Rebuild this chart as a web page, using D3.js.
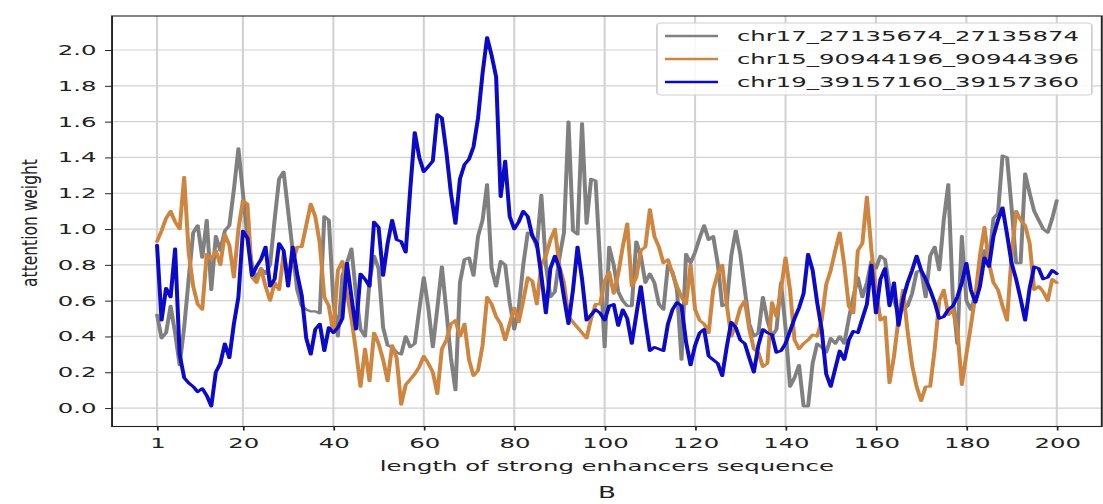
<!DOCTYPE html>
<html>
<head>
<meta charset="utf-8">
<script src="https://cdn.jsdelivr.net/npm/d3@7"></script>
<style>
  html, body { margin: 0; padding: 0; background: #ffffff; }
  #chart { width: 1103px; height: 504px; }
  text { font-family: "DejaVu Sans", sans-serif; fill: #222222; }
</style>
</head>
<body>
<div id="chart"></div>
<script>
// Attention weight along each 200-bp strong enhancer sequence
const positions = d3.range(1, 201);

const seriesNames = [
  "chr17_27135674_27135874",
  "chr15_90944196_90944396",
  "chr19_39157160_39157360"
];

const chr17Values = [
  0.52,0.39,0.42,0.57,0.42,0.24,0.45,0.72,0.98,1.02,
  0.84,1.05,0.66,0.96,0.88,0.99,1.02,1.22,1.45,1.20,
  0.95,0.80,0.72,0.78,0.75,0.80,1.05,1.28,1.32,1.10,
  0.88,0.66,0.57,0.55,0.54,0.54,0.53,1.07,1.05,0.60,
  0.40,0.74,0.81,0.89,0.64,0.44,0.40,0.71,0.85,0.78,
  0.45,0.35,0.34,0.31,0.30,0.40,0.34,0.36,0.55,0.73,
  0.56,0.34,0.56,0.79,0.54,0.28,0.10,0.70,0.83,0.84,
  0.74,0.96,1.05,1.25,0.78,0.68,0.82,0.80,0.59,0.44,
  0.56,0.80,0.98,0.97,0.90,1.19,0.80,0.62,0.65,0.84,
  0.98,1.60,0.99,0.97,1.59,1.03,1.28,1.27,0.81,0.34,
  0.90,0.80,0.65,0.60,0.57,0.57,0.93,0.85,0.70,0.75,
  0.70,0.58,0.55,0.80,0.76,0.66,0.27,0.86,0.81,0.87,
  0.95,1.02,0.94,0.96,0.81,0.57,0.58,0.85,0.99,0.86,
  0.66,0.47,0.40,0.42,0.62,0.49,0.40,0.44,0.70,0.45,
  0.12,0.17,0.24,0.01,0.01,0.25,0.36,0.34,0.31,0.39,
  0.36,0.40,0.36,0.50,0.62,0.73,0.62,0.70,0.82,0.78,
  0.85,0.83,0.67,0.60,0.53,0.55,0.57,0.64,0.76,0.77,
  0.62,0.85,0.90,0.77,1.05,1.25,0.62,0.36,0.96,0.60,
  0.55,0.63,0.72,0.88,0.82,1.06,1.09,1.41,1.40,1.12,
  0.81,0.81,1.31,1.20,1.10,1.05,1.00,0.98,1.06,1.16
];

const chr15Values = [
  0.93,0.99,1.06,1.10,1.04,1.00,1.29,0.87,0.68,0.58,
  0.55,0.86,0.83,0.88,0.80,0.97,0.91,0.73,1.00,1.16,
  1.14,0.73,0.70,0.78,0.68,0.60,0.70,0.66,0.86,0.74,
  0.81,0.90,0.90,1.02,1.14,1.07,0.92,0.62,0.57,0.42,
  0.77,0.82,0.64,0.50,0.32,0.12,0.33,0.15,0.42,0.36,
  0.27,0.15,0.35,0.28,0.02,0.13,0.16,0.19,0.23,0.29,
  0.25,0.20,0.08,0.33,0.38,0.47,0.49,0.40,0.47,0.27,
  0.18,0.21,0.35,0.62,0.58,0.51,0.47,0.38,0.47,0.56,
  0.48,0.60,0.73,0.71,0.58,0.80,0.85,0.94,1.00,0.79,
  0.70,0.51,0.48,0.45,0.42,0.39,0.50,0.58,0.58,0.71,
  0.76,0.64,0.75,0.90,1.03,0.68,0.73,0.88,0.90,1.11,
  0.96,0.90,0.81,0.83,0.75,0.68,0.62,0.58,0.80,0.55,
  0.49,0.47,0.42,0.66,0.75,0.80,0.58,0.40,0.47,0.56,
  0.60,0.44,0.33,0.31,0.23,0.25,0.59,0.51,0.66,0.84,
  0.66,0.38,0.33,0.36,0.38,0.41,0.40,0.49,0.69,0.77,
  0.88,0.98,0.80,0.57,0.53,0.88,0.92,1.18,0.88,0.66,
  0.49,0.51,0.14,0.29,0.50,0.66,0.43,0.24,0.12,0.04,
  0.12,0.12,0.33,0.60,0.66,0.52,0.55,0.44,0.13,0.30,
  0.46,0.63,0.85,1.01,0.81,0.70,0.66,0.57,0.49,0.85,
  1.10,1.05,1.02,0.92,0.66,0.68,0.65,0.60,0.72,0.70
];

const chr19Values = [
  0.91,0.49,0.67,0.62,0.89,0.30,0.17,0.14,0.12,0.09,
  0.11,0.07,0.01,0.20,0.25,0.36,0.28,0.47,0.62,0.99,
  0.95,0.74,0.79,0.83,0.90,0.68,0.72,0.92,0.88,0.68,
  0.90,0.75,0.63,0.39,0.30,0.44,0.47,0.32,0.45,0.42,
  0.45,0.50,0.81,0.62,0.44,0.75,0.72,0.68,1.04,1.01,
  0.74,0.92,1.05,0.94,0.93,0.87,1.22,1.54,1.40,1.32,
  1.35,1.38,1.64,1.62,1.43,1.20,1.03,1.28,1.36,1.39,
  1.46,1.62,1.87,2.07,1.97,1.85,1.18,1.38,1.07,1.00,
  1.04,1.10,1.07,0.96,0.92,0.74,0.53,0.78,0.85,0.78,
  0.62,0.47,0.66,0.90,0.72,0.49,0.52,0.55,0.53,0.49,
  0.57,0.58,0.46,0.55,0.50,0.36,0.52,0.68,0.49,0.32,
  0.34,0.33,0.32,0.47,0.55,0.59,0.57,0.37,0.24,0.35,
  0.42,0.44,0.29,0.27,0.25,0.18,0.34,0.48,0.45,0.38,
  0.36,0.28,0.20,0.35,0.44,0.42,0.41,0.31,0.32,0.36,
  0.43,0.50,0.56,0.64,0.86,0.77,0.59,0.44,0.19,0.12,
  0.22,0.32,0.27,0.38,0.43,0.42,0.50,0.58,0.80,0.53,
  0.72,0.78,0.57,0.70,0.46,0.61,0.70,0.77,0.85,0.77,
  0.72,0.66,0.59,0.50,0.51,0.55,0.57,0.62,0.70,0.81,
  0.66,0.59,0.68,0.84,0.79,0.96,1.05,1.12,0.97,0.81,
  0.72,0.61,0.49,0.67,0.79,0.78,0.72,0.73,0.77,0.75
];

const seriesColors = ["#808080", "#cd853f", "#0a0ac8"];

const xTickValues = [1, 20, 40, 60, 80, 100, 120, 140, 160, 180, 200];
const yTickValues = [0.0, 0.2, 0.4, 0.6, 0.8, 1.0, 1.2, 1.4, 1.6, 1.8, 2.0];

const xLabel = "length of strong enhancers sequence";
const yLabel = "attention weight";
const caption = "B";

const series = seriesNames.map((name, k) => ({
  name,
  values: [chr17Values, chr15Values, chr19Values][k],
  color: seriesColors[k]
}));

// The figure is drawn in a narrower coordinate space and stretched to the page width.
const outerW = 1103, outerH = 504;
const innerW = 634;
const frame = { left: 64.4, right: 633.3, top: 16, bottom: 426.5 };

const svg = d3.select("#chart").append("svg")
  .attr("width", outerW)
  .attr("height", outerH)
  .attr("viewBox", `0 0 ${innerW} ${outerH}`)
  .attr("preserveAspectRatio", "none");

svg.append("rect").attr("width", innerW).attr("height", outerH).attr("fill", "#ffffff");

const x = d3.scaleLinear().domain([-8.95, 209.95]).range([frame.left, frame.right]);
const y = d3.scaleLinear().domain([-0.103, 2.19]).range([frame.bottom, frame.top]);

// grid
const grid = svg.append("g").attr("stroke", "#d2d2d2").attr("stroke-width", 1.2);
grid.selectAll("line.v").data(xTickValues).join("line")
  .attr("class", "v")
  .attr("x1", d => x(d)).attr("x2", d => x(d))
  .attr("y1", frame.top).attr("y2", frame.bottom);
grid.selectAll("line.h").data(yTickValues).join("line")
  .attr("class", "h")
  .attr("x1", frame.left).attr("x2", frame.right)
  .attr("y1", d => y(d)).attr("y2", d => y(d));

// series lines
const line = d3.line()
  .x((d, i) => x(positions[i]))
  .y(d => y(d));

svg.append("g").selectAll("path").data(series).join("path")
  .attr("d", d => line(d.values))
  .attr("fill", "none")
  .attr("stroke", d => d.color)
  .attr("stroke-width", 2.3)
  .attr("stroke-linejoin", "round")
  .attr("stroke-linecap", "round");

// axes
const xAxis = svg.append("g")
  .attr("transform", `translate(0,${frame.bottom})`)
  .call(d3.axisBottom(x).tickValues(xTickValues).tickFormat(d3.format("d"))
    .tickSize(4).tickSizeOuter(0).tickPadding(7.5));
const yAxis = svg.append("g")
  .attr("transform", `translate(${frame.left},0)`)
  .call(d3.axisLeft(y).tickValues(yTickValues).tickFormat(d3.format(".1f"))
    .tickSize(4).tickSizeOuter(0).tickPadding(5));

[xAxis, yAxis].forEach(g => {
  g.select(".domain").remove();
  g.selectAll(".tick line").attr("stroke", "#222222").attr("stroke-width", 1);
  g.selectAll(".tick text")
    .attr("fill", "#222222")
    .style("font-family", "'DejaVu Sans', sans-serif")
    .style("font-size", "14px");
});

// frame
svg.append("rect")
  .attr("x", frame.left).attr("y", frame.top)
  .attr("width", frame.right - frame.left)
  .attr("height", frame.bottom - frame.top)
  .attr("fill", "none")
  .attr("stroke", "#222222")
  .attr("stroke-width", 1.1);

// legend
const legend = svg.append("g");
legend.append("rect")
  .attr("x", 377.6).attr("y", 23)
  .attr("width", 250).attr("height", 72)
  .attr("rx", 2.5).attr("ry", 2.5)
  .attr("fill", "#ffffff").attr("fill-opacity", 0.85)
  .attr("stroke", "#d0d0d0").attr("stroke-width", 1);

const rows = legend.selectAll("g.row").data(series).join("g")
  .attr("class", "row")
  .attr("transform", (d, i) => `translate(0,${36 + i * 23})`);
rows.append("line")
  .attr("x1", 382.2).attr("x2", 412.7)
  .attr("y1", 0).attr("y2", 0)
  .attr("stroke", d => d.color)
  .attr("stroke-width", 2.3);
rows.append("text")
  .attr("x", 423.6).attr("y", 0).attr("dy", "0.36em")
  .style("font-size", "14px")
  .text(d => d.name);

// axis titles and caption
svg.append("text")
  .attr("x", (frame.left + frame.right) / 2).attr("y", 471)
  .attr("text-anchor", "middle")
  .style("font-size", "14px")
  .text(xLabel);

svg.append("text")
  .attr("transform", "translate(17.2,223) scale(0.8,1) rotate(-90)")
  .attr("text-anchor", "middle")
  .attr("dy", "0.35em")
  .style("font-size", "15.5px")
  .text(yLabel);

svg.append("text")
  .attr("x", (frame.left + frame.right) / 2).attr("y", 498.5)
  .attr("text-anchor", "middle")
  .style("font-size", "15px")
  .text(caption);
</script>
</body>
</html>
